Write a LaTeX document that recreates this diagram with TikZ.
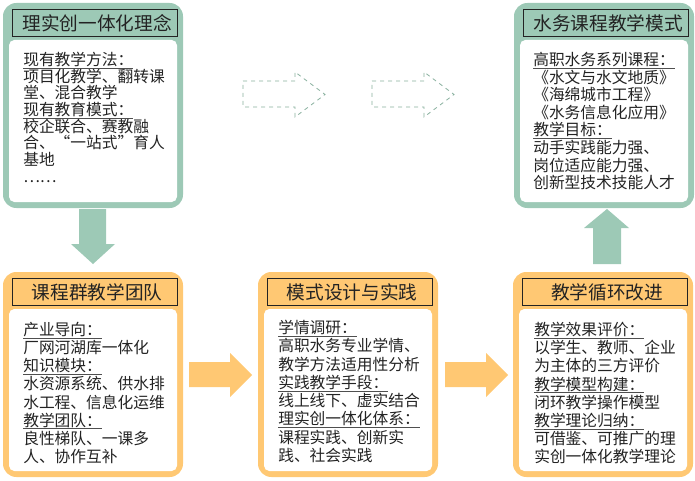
\documentclass[tikz,border=0pt]{standalone}
\usepackage{fontspec}
\setmainfont{Noto Sans CJK SC}
\usepackage{tikz}
\definecolor{grn}{RGB}{157,201,182}
\definecolor{org}{RGB}{255,200,115}
\definecolor{dashgrn}{RGB}{135,175,157}
\definecolor{ink}{RGB}{35,35,35}
\tikzset{
  ttl/.style={font=\fontsize{14}{16}\selectfont, text=ink, inner sep=0},
  body/.style={font=\fontsize{11.8}{#1}\selectfont, text=ink, inner sep=0, anchor=north west, align=left},
  body/.default=12.5,
}
% heading with a thin rule close under the glyphs
\newcommand{\hd}[1]{\setbox0\hbox{#1}\rlap{\color{ink!80}\rule[-2.2pt]{\wd0}{0.5pt}}\box0}

\begin{document}
\begin{tikzpicture} [x=0.75pt, y=-0.75pt]
\useasboundingbox (0,0) rectangle (695,481);
% panels
\foreach \xa/\ya/\c/\n/\t in {3/3/grn/idea/理实创一体化理念, 514/3/grn/mode/水务课程教学模式,
  3/272/org/team/课程群教学团队, 258/272/org/design/模式设计与实践, 513/272/org/cycle/教学循环改进} {
 \fill[\c, rounded corners=10] (\xa,\ya) rectangle ++(180,205);
 \fill[white, rounded corners=4] (\xa+6,\ya+37) rectangle ++(168,162);
 \draw[ink, line width=0.7pt, fill=\c] (\xa+9,\ya+6) rectangle ++(165,27);
 \node[ttl] (\n-t) at (\xa+94,\ya+20) {\t};
}
% block arrows
\fill[grn] (79,209) -- (106,209) -- (106,244) -- (115,244) -- (93,264) -- (71,244) -- (79,244) -- cycle;
\fill[grn] (593,264) -- (621,264) -- (621,228) -- (629,228) -- (607,209) -- (584,228) -- (593,228) -- cycle;
\foreach \s in {0,256} {
 \fill[org, xshift=\s*0.75pt] (189,362) -- (230,362) -- (230,353) -- (252,375) -- (230,397) -- (230,387) -- (189,387) -- cycle;
}
\foreach \s in {0,129} {
 \draw[dashgrn, dashed, line width=0.6pt, xshift=\s*0.75pt] (243,81) -- (295,81) -- (295,72) -- (325,94.5) -- (295,117) -- (295,107) -- (243,107) -- cycle;
}
% texts
\node[body] (idea-b) at (23,52) {\hd{现有教学方法：}\\项目化教学、翻转课\\堂、混合教学\\\hd{现有教育模式：}\\校企联合、赛教融\\合、“一站式”育人\\基地\\……};
\node[body=13.2] (mode-b) at (533,52) {\hd{高职水务系列课程：}\\《水文与水文地质》\\《海绵城市工程》\\《水务信息化应用》\\\hd{教学目标：}\\动手实践能力强、\\岗位适应能力强、\\创新型技术技能人才};
\node[body=13.6] (team-b) at (23,322) {\hd{产业导向：}\\厂网河湖库一体化\\\hd{知识模块：}\\水资源系统、供水排\\水工程、信息化运维\\\hd{教学团队：}\\良性梯队、一课多\\人、协作互补};
\node[body=13.7] (design-b) at (278,320) {\hd{学情调研：}\\高职水务专业学情、\\教学方法适用性分析\\\hd{实践教学手段：}\\线上线下、虚实结合\\\hd{理实创一体化体系：}\\课程实践、创新实\\践、社会实践};
\node[body=13.6] (cycle-b) at (534,322) {\hd{教学效果评价：}\\以学生、教师、企业\\为主体的三方评价\\\hd{教学模型构建：}\\闭环教学操作模型\\\hd{教学理论归纳：}\\可借鉴、可推广的理\\实创一体化教学理论};
\end{tikzpicture}
\end{document}
